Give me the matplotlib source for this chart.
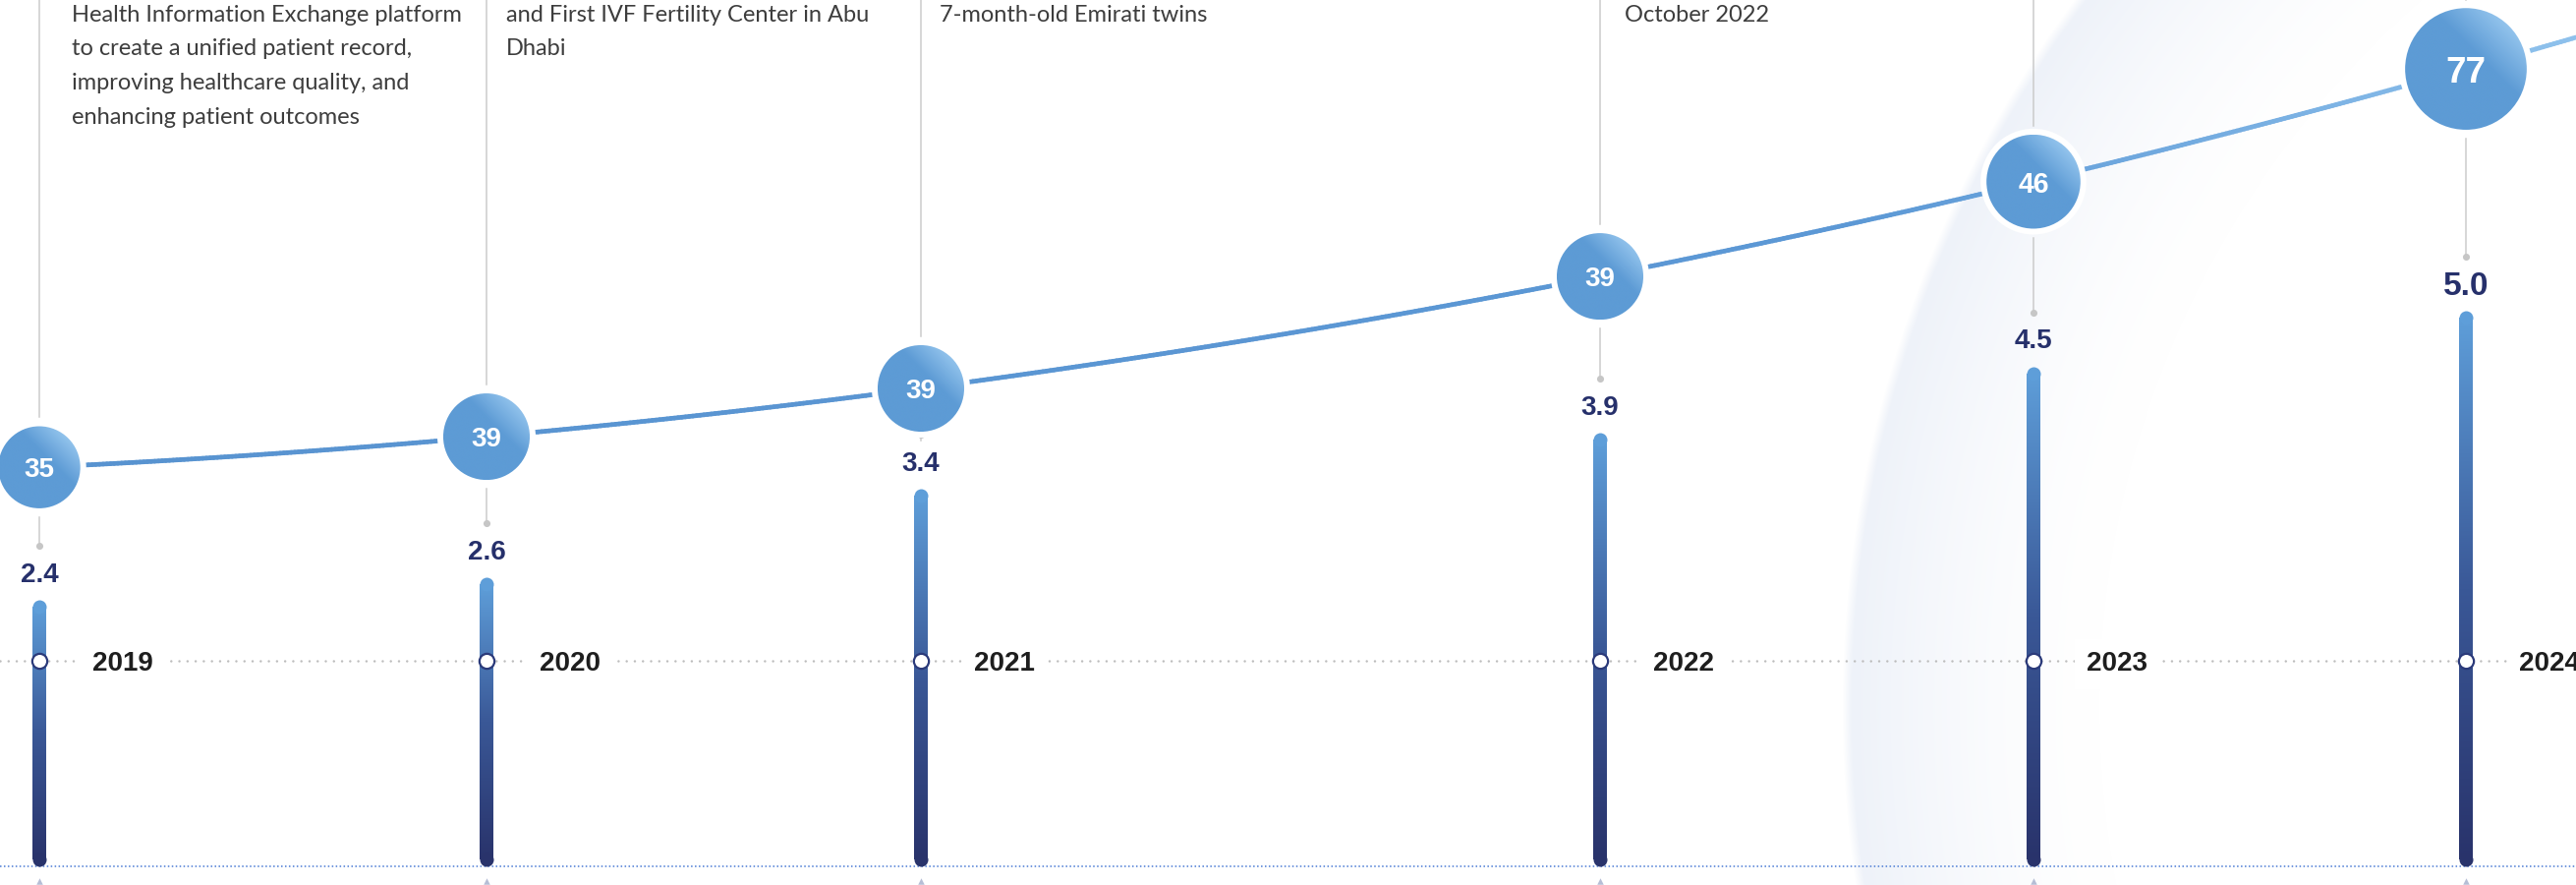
import numpy as np
import matplotlib
matplotlib.use("Agg")
import matplotlib.pyplot as plt
from matplotlib.colors import LinearSegmentedColormap, to_rgb
from matplotlib.patches import Circle
from matplotlib.collections import LineCollection

# ---- data ----
years = ["2019", "2020", "2021", "2022", "2023", "2024"]
bar_values = [2.4, 2.6, 3.4, 3.9, 4.5, 5.0]
bubble_values = [35, 39, 39, 39, 46, 77]
notes = [
    ["Health Information Exchange platform",
     "to create a unified patient record,",
     "improving healthcare quality, and",
     "enhancing patient outcomes"],
    ["and First IVF Fertility Center in Abu", "Dhabi"],
    ["7-month-old Emirati twins"],
    ["October 2022"],
    [],
    [],
]

# ---- layout (pixels) ----
W, H = 2621, 900
x_slots = [40, 495, 937, 1628, 2069, 2509]
note_x = [73, 515, 956, 1653, None, None]
BASE = 19            # bar baseline above the bottom edge
PX_PER_UNIT = 113    # bar scale
YEAR_Y = 228         # dotted timeline
BAR_W = 14

NARROW = ["Liberation Sans Narrow", "Liberation Sans", "DejaVu Sans"]
BODY = ["Lato", "DejaVu Sans"]


def arc(x):
    # decorative growth arc the bubbles sit on
    x = np.asarray(x, dtype=float)
    return 423 + 0.043 * x + 0.0000475 * x ** 2


fig = plt.figure(figsize=(W / 100, H / 100), dpi=100)
ax = fig.add_axes([0, 0, 1, 1])
ax.set_xlim(0, W)
ax.set_ylim(0, H)
ax.axis("off")

# faint background crescent
yy, xx = np.mgrid[0:H, 0:W]
cx, cy, R = 3088, 180, 1204
d = np.hypot(xx - cx, yy - cy)
e = R - d
alpha = np.where(e >= 0, np.clip(1 - e / 260, 0, 1) ** 1.6, np.clip(1 + e / 10, 0, 1))
bg = np.zeros((H, W, 4))
bg[..., :3] = to_rgb("#eef2f9")
bg[..., 3] = alpha
ax.imshow(bg, extent=[0, W, 0, H], origin="lower", aspect="auto", zorder=0)

# timeline rows
ax.plot([0, W], [YEAR_Y, YEAR_Y], color="#bdbdbd", lw=1.8,
        linestyle=(0, (0.01, 3.3)), dash_capstyle="round", zorder=1)
ax.plot([0, W], [BASE, BASE], color="#4a7bd4", lw=1.1,
        linestyle=(0, (1, 1.6)), zorder=1)
ax.scatter(x_slots, [4] * len(x_slots), marker="^", s=22, color="#b6bed6",
           linewidths=0, zorder=1)

# connecting curve
xs = np.linspace(0, W, 700)
ys = arc(xs)
pts = np.column_stack([xs, ys]).reshape(-1, 1, 2)
segs = np.concatenate([pts[:-1], pts[1:]], axis=1)
line_cmap = LinearSegmentedColormap.from_list(
    "ln", [(0, "#5893d0"), (0.72, "#5c98d5"), (1, "#8ec1ec")])
lc = LineCollection(segs, colors=line_cmap(xs[:-1] / W), linewidths=3.4,
                    capstyle="round", zorder=2)
ax.add_collection(lc)

# bubble gradient
g = np.linspace(-1, 1, 220)
gx, gy = np.meshgrid(g, g)
u = (gx + gy) / np.sqrt(2)
t = np.clip((u - 0.3) / 0.75, 0, 1)
base_c = np.array(to_rgb("#5d9bd5"))
light_c = np.array(to_rgb("#96c6ee"))
bubble_img = base_c * (1 - t[..., None]) + light_c * t[..., None]

for i, (x, v) in enumerate(zip(x_slots, bubble_values)):
    r = 7.05 * np.sqrt(v)
    c_y = float(arc(x))
    ax.add_patch(Circle((x, c_y), r + 6, facecolor="white", edgecolor="none", zorder=3))
    clip = Circle((x, c_y), r, facecolor="none", edgecolor="none", zorder=4)
    ax.add_patch(clip)
    im = ax.imshow(bubble_img, extent=[x - r, x + r, c_y - r, c_y + r],
                   origin="lower", aspect="auto", zorder=4)
    im.set_clip_path(clip)
    ax.text(x, c_y, str(v), ha="center", va="center_baseline", color="white",
            fontsize=max(20, 0.43 * r), fontweight="bold", family=NARROW, zorder=5)

    # thin leader lines
    dot_y = BASE + bar_values[i] * PX_PER_UNIT + 55
    ax.plot([x, x], [c_y + r + 9, H], color="#cbcbcb", lw=1.1, zorder=1)
    ax.plot([x, x], [c_y - r - 9, dot_y], color="#cbcbcb", lw=1.1, zorder=1)
    ax.scatter([x], [dot_y], s=26, color="#c6c6c6", linewidths=0, zorder=2)

    # year label
    ax.text(x + 54, YEAR_Y, years[i], ha="left", va="center_baseline",
            fontsize=20, fontweight="bold", family=NARROW, color="#1e1e1e",
            bbox=dict(boxstyle="square,pad=0.45", facecolor="white", edgecolor="none"),
            zorder=3)

    # milestone notes
    if note_x[i] is not None:
        for j, line in enumerate(notes[i]):
            ax.text(note_x[i], H - 22 - j * 34.5, line, ha="left", va="baseline",
                    fontsize=17, family=BODY, color="#3d3d3d", zorder=3)

# ---- bars ----
bx = fig.add_axes([0, BASE / H, 1, (H - BASE) / H])
bx.set_xlim(0, W)
bx.set_ylim(0, (H - BASE) / PX_PER_UNIT)
bx.axis("off")
bx.patch.set_alpha(0)

bar_cmap = LinearSegmentedColormap.from_list(
    "br", [(0, "#29336b"), (0.5, "#3a5897"), (1, "#5e9ed9")])
grad = bar_cmap(np.linspace(0, 1, 256))[:, None, :3]
cap = (BAR_W / 2) / PX_PER_UNIT
cap_s = (BAR_W * 0.72) ** 2

for i, (x, v) in enumerate(zip(x_slots, bar_values)):
    rect = bx.bar(x, v - 2 * cap, bottom=cap, width=BAR_W, color="none",
                  edgecolor="none")[0]
    im = bx.imshow(grad, extent=[x - BAR_W / 2, x + BAR_W / 2, cap, v - cap],
                   origin="lower", aspect="auto", zorder=2)
    im.set_clip_path(rect)
    bx.scatter([x], [v - cap], s=cap_s, color=bar_cmap(1.0), linewidths=0, zorder=2)
    bx.scatter([x], [cap], s=cap_s, color=bar_cmap(0.0), linewidths=0, zorder=2)

    big = i == len(bar_values) - 1
    bx.annotate(f"{v:.1f}", (x, v), xytext=(0, 28 * 0.72), textcoords="offset points",
                ha="center", va="center_baseline", fontsize=24 if big else 20,
                fontweight="bold", family=NARROW, color="#26306b", zorder=3)

    bx.plot([x], [(YEAR_Y - BASE) / PX_PER_UNIT], marker="o", ms=11,
            mfc="white", mec="#2b3a7a", mew=1.6, zorder=4)

bx.set_xlim(0, W)
bx.set_ylim(0, (H - BASE) / PX_PER_UNIT)
ax.set_xlim(0, W)
ax.set_ylim(0, H)

fig.savefig("out.png", dpi=100)
